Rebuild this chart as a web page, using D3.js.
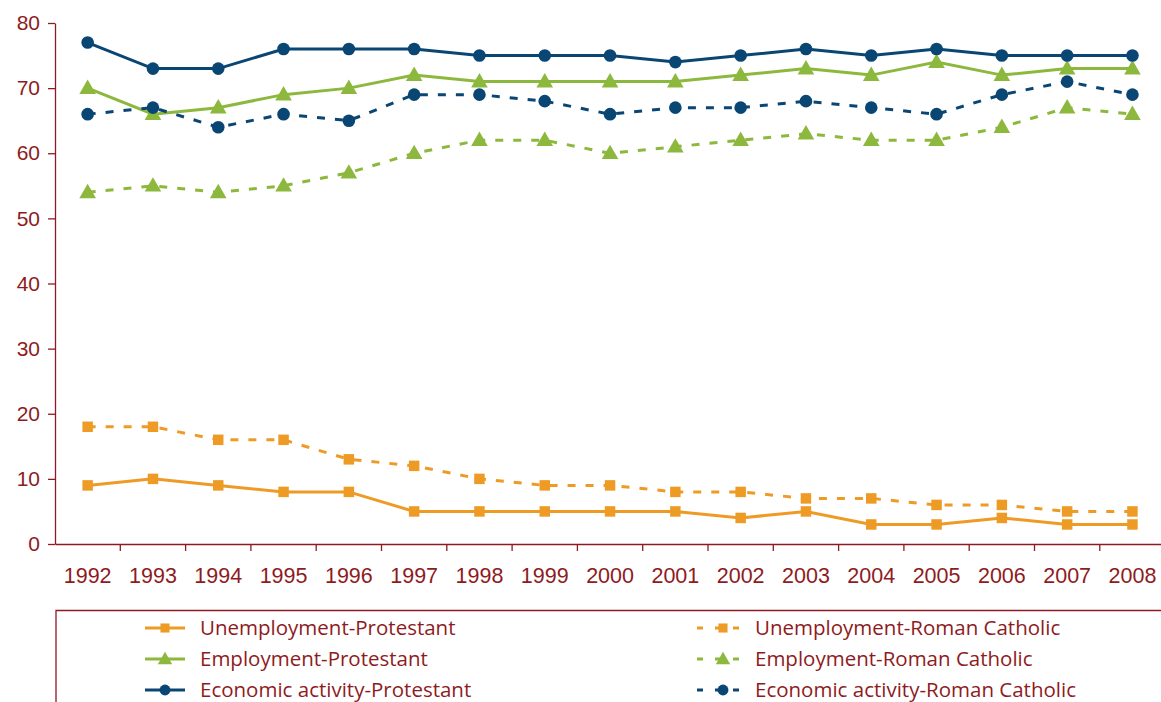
<!DOCTYPE html>
<html><head><meta charset="utf-8">
<script src="https://cdn.jsdelivr.net/npm/d3@7"></script>
<style>body{margin:0;background:#fff;}svg{display:block;font-family:"Open Sans",sans-serif;}</style>
</head><body><svg id="c" width="1161" height="702"></svg>
<script>
const years = ["1992","1993","1994","1995","1996","1997","1998","1999","2000","2001","2002","2003","2004","2005","2006","2007","2008"];
const yTicks = [0,10,20,30,40,50,60,70,80];
const unempProt = [9,10,9,8,8,5,5,5,5,5,4,5,3,3,4,3,3];
const unempRC = [18,18,16,16,13,12,10,9,9,8,8,7,7,6,6,5,5];
const empProt = [70,66,67,69,70,72,71,71,71,71,72,73,72,74,72,73,73];
const empRC = [54,55,54,55,57,60,62,62,60,61,62,63,62,62,64,67,66];
const econProt = [77,73,73,76,76,76,75,75,75,74,75,76,75,76,75,75,75];
const econRC = [66,67,64,66,65,69,69,68,66,67,67,68,67,66,69,71,69];

const ORANGE="#EE9B25", GREEN="#8DB83E", NAVY="#0A4673", RED="#8E1B22";
const series = [
  {name:"Unemployment-Protestant", values:unempProt, color:ORANGE, marker:"square", dashed:false},
  {name:"Unemployment-Roman Catholic", values:unempRC, color:ORANGE, marker:"square", dashed:true},
  {name:"Employment-Protestant", values:empProt, color:GREEN, marker:"triangle", dashed:false},
  {name:"Employment-Roman Catholic", values:empRC, color:GREEN, marker:"triangle", dashed:true},
  {name:"Economic activity-Protestant", values:econProt, color:NAVY, marker:"circle", dashed:false},
  {name:"Economic activity-Roman Catholic", values:econRC, color:NAVY, marker:"circle", dashed:true}
];

const svg = d3.select("#c");
const mLeft=55, mTop=23, mBottom=544, bw=65.3;
const x = d3.scaleBand().domain(years).range([mLeft, mLeft+bw*years.length]);
const y = d3.scaleLinear().domain([0,80]).range([mBottom, mTop]);

// Y axis
const ya = svg.append("g").attr("transform",`translate(${mLeft},0)`)
  .call(d3.axisLeft(y).tickValues(yTicks).tickSize(7).tickPadding(8).tickSizeOuter(0));
ya.select(".domain").attr("stroke",RED).attr("stroke-width",1.3);
ya.selectAll(".tick line").attr("stroke",RED).attr("stroke-width",1.3);
ya.selectAll(".tick text").attr("fill",RED).style("font-size","21px");

// X axis
const xa = svg.append("g").attr("transform",`translate(0,${mBottom})`)
  .call(d3.axisBottom(x).tickSize(0).tickPadding(24).tickSizeOuter(0));
xa.select(".domain").attr("stroke",RED).attr("stroke-width",1.3);
xa.selectAll(".tick text").attr("fill",RED).style("font-size","21.5px");
xa.selectAll(".bd").data(years).enter().append("line")
  .attr("x1",d=>x(d)+x.bandwidth()).attr("x2",d=>x(d)+x.bandwidth())
  .attr("y1",0).attr("y2",7).attr("stroke",RED).attr("stroke-width",1.3);

const cx = d=>x(d)+x.bandwidth()/2;
const sym = {square:d3.symbolSquare, triangle:d3.symbolTriangle, circle:d3.symbolCircle};
const symSize = {square:110, triangle:120, circle:125};

function drawSeries(s){
  const line = d3.line().x((v,i)=>cx(years[i])).y(v=>y(v));
  svg.append("path").attr("d",line(s.values)).attr("fill","none")
    .attr("stroke",s.color).attr("stroke-width",3)
    .attr("stroke-dasharray",s.dashed?"8,10":null);
  svg.append("g").selectAll("path").data(s.values).enter().append("path")
    .attr("d",d3.symbol().type(sym[s.marker]).size(symSize[s.marker]))
    .attr("transform",(v,i)=>`translate(${cx(years[i])},${y(v)+(s.marker==="triangle"?1:0)})`)
    .attr("fill",s.color);
}
series.forEach(drawSeries);

// Legend
const lg = svg.append("g");
lg.append("path").attr("d","M56,702 V610.5 H1161").attr("fill","none").attr("stroke",RED).attr("stroke-width",1.3);
const rowsY=[628,659,690];
series.forEach((s,i)=>{
  const col = i%2, row = Math.floor(i/2);
  const x0 = col===0?145:697, yy = rowsY[row];
  const g = lg.append("g");
  if(!s.dashed){
    g.append("line").attr("x1",x0).attr("x2",x0+40).attr("y1",yy).attr("y2",yy).attr("stroke",s.color).attr("stroke-width",3);
  } else {
    g.append("line").attr("x1",x0).attr("x2",x0+44).attr("y1",yy).attr("y2",yy).attr("stroke",s.color).attr("stroke-width",3).attr("stroke-dasharray","6,12");
  }
  const mx = s.dashed? x0+26 : x0+20;
  g.append("path").attr("d",d3.symbol().type(sym[s.marker]).size(symSize[s.marker]*0.75))
    .attr("transform",`translate(${mx},${yy+(s.marker==="triangle"?1:0)})`).attr("fill",s.color);
  g.append("text").attr("x",col===0?200:755).attr("y",yy).attr("dy","0.35em")
    .attr("fill",RED).style("font-size","20.5px").text(s.name);
});
</script></body></html>
